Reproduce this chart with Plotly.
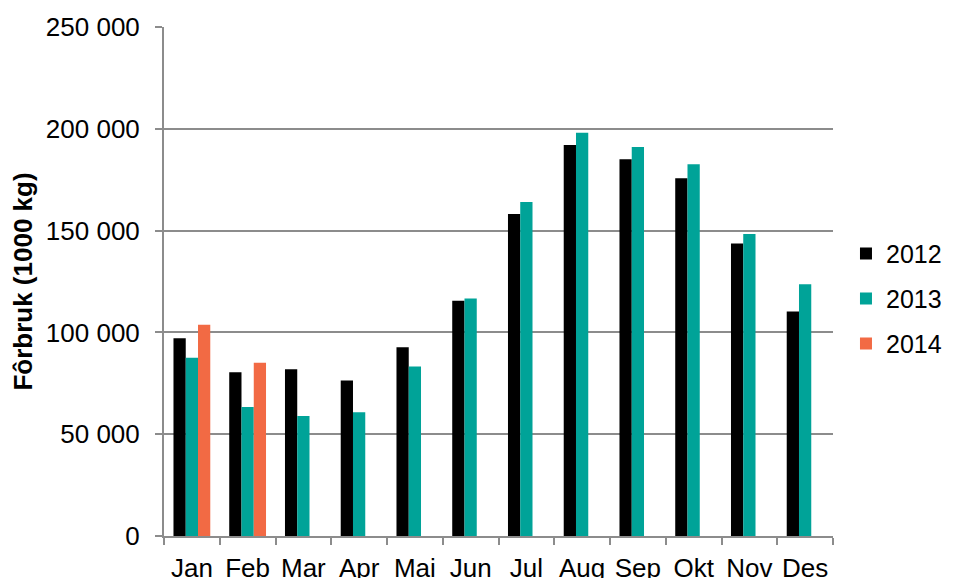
import plotly.graph_objects as go

# monthly consumption (1000 kg)
months = ["Jan", "Feb", "Mar", "Apr", "Mai", "Jun", "Jul", "Aug", "Sep", "Okt", "Nov", "Des"]
values_2012 = [97100, 80400, 81900, 76400, 92700, 115600, 158100, 192000, 185100, 175700, 143700, 110300]
values_2013 = [87600, 63400, 59000, 60800, 83200, 116600, 164000, 198000, 191000, 182600, 148300, 123600]
values_2014 = [103800, 85100, None, None, None, None, None, None, None, None, None, None]

series = [
    ("2012", values_2012, "#000000"),
    ("2013", values_2013, "#00A398"),
    ("2014", values_2014, "#F26A44"),
]

FONT = "Liberation Sans, Arial, sans-serif"
GRID = "#8C8C8C"

fig = go.Figure()
for name, vals, color in series:
    fig.add_trace(go.Bar(
        x=months, y=vals, name=name, legendgroup=name,
        marker=dict(color=color, line=dict(width=0)),
    ))

# the page has an 8px body margin, so the margins are shifted by that much
fig.update_layout(
    width=955, height=578,
    margin=dict(l=156, r=130, t=19, b=50, autoexpand=False),
    paper_bgcolor="white", plot_bgcolor="white",
    font=dict(family=FONT, size=26, color="black"),
    separators=", ",
    barmode="group",
    bargap=0.34,
    bargroupgap=0,
    legend=dict(
        x=1.0194, xanchor="left", y=0.466, yanchor="middle",
        font=dict(size=25), tracegroupgap=9.5, itemwidth=30,
        borderwidth=0, bgcolor="rgba(0,0,0,0)",
    ),
)

fig.update_xaxes(
    type="category",
    showline=True, linecolor=GRID, linewidth=2,
    ticks="outside", tickson="boundaries", ticklen=7, tickcolor=GRID, tickwidth=2,
    showgrid=False, automargin=False,
    tickangle=0, ticklabelstandoff=8,
    tickfont=dict(size=26),
)

fig.update_yaxes(
    range=[0, 250000], dtick=50000, tickformat=",d",
    showline=True, linecolor=GRID, linewidth=2,
    ticks="outside", ticklen=7, tickcolor=GRID, tickwidth=2,
    showgrid=True, gridcolor=GRID, gridwidth=2,
    zeroline=False, automargin=False,
    ticklabelstandoff=10,
    tickfont=dict(size=26),
    title=dict(text="<b>Fôrbruk (1000 kg)</b>", font=dict(size=26), standoff=8),
)

fig.write_html("out.html")
